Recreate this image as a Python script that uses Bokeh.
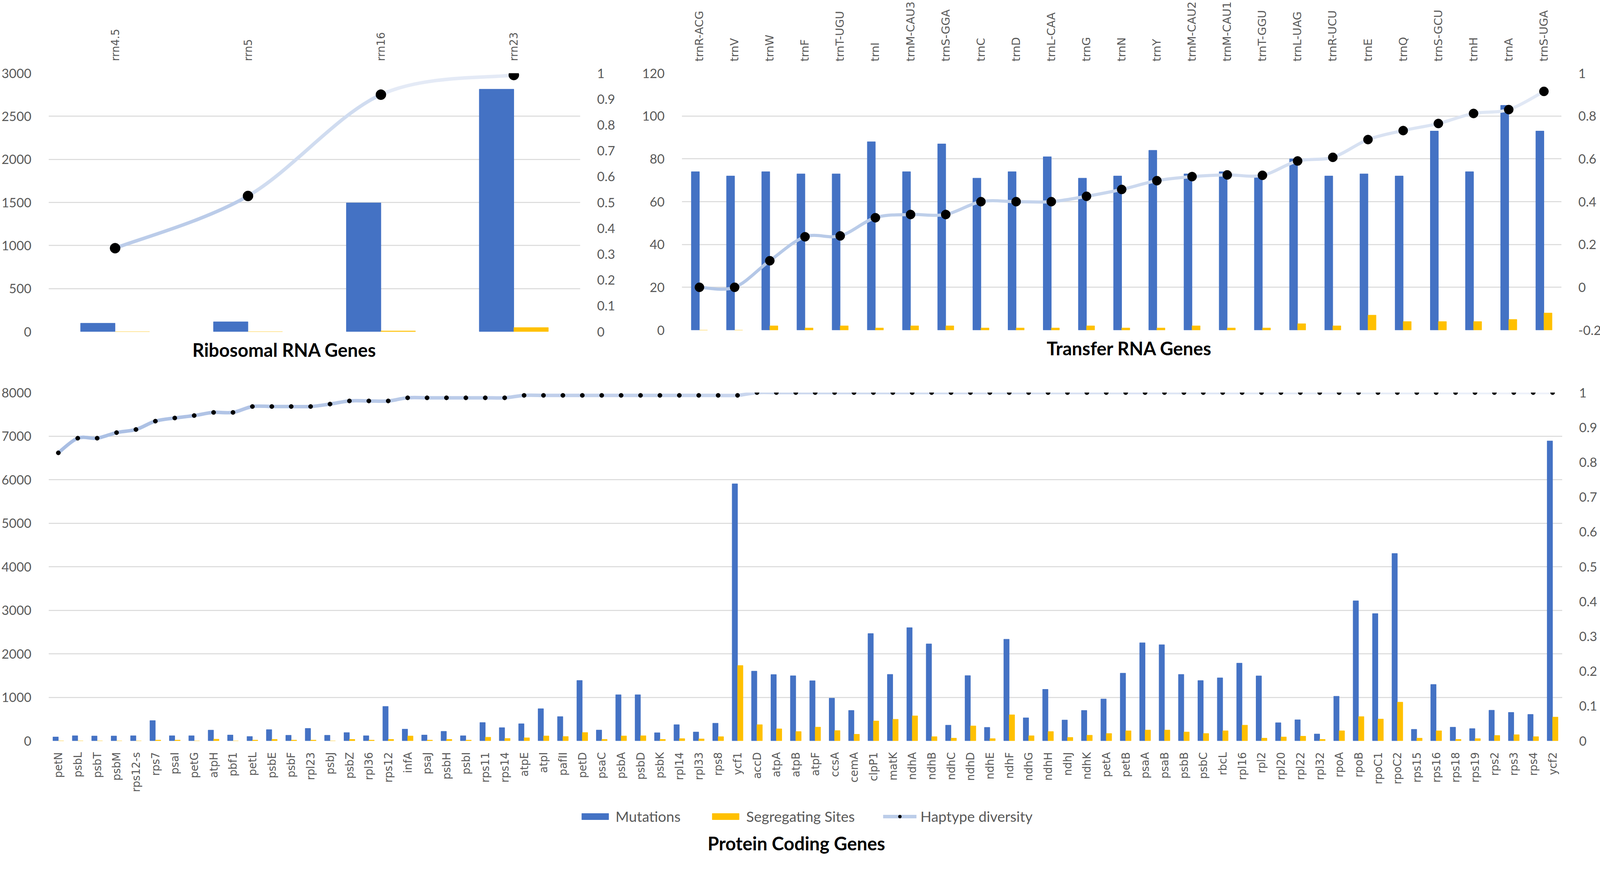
import numpy as np
from bokeh.plotting import figure
from bokeh.models import (Range1d, LinearAxis, FixedTicker, CustomJSTickFormatter, Legend,
                          LegendItem, Title, ColumnDataSource, Grid)
from bokeh.transform import dodge
from bokeh.layouts import column, row
from bokeh.embed import file_html
from bokeh.resources import INLINE

# ---------------- data ----------------
rrna_genes = ["rrn4.5", "rrn5", "rrn16", "rrn23"]
rrna_mut = [98, 115, 1495, 2815]
rrna_seg = [0, 0, 8, 48]
rrna_hd = [0.323, 0.525, 0.917, 0.993]

trna_genes = ["trnR-ACG", "trnV", "trnW", "trnF", "trnT-UGU", "trnI", "trnM-CAU3", "trnS-GGA",
              "trnC", "trnD", "trnL-CAA", "trnG", "trnN", "trnY", "trnM-CAU2", "trnM-CAU1",
              "trnT-GGU", "trnL-UAG", "trnR-UCU", "trnE", "trnQ", "trnS-GCU", "trnH", "trnA", "trnS-UGA"]
trna_mut = [74, 72, 74, 73, 73, 88, 74, 87, 71, 74, 81, 71, 72, 84, 73, 74, 72, 80, 72, 73, 72, 93, 74, 105, 93]
trna_seg = [0, 0, 2, 1, 2, 1, 2, 2, 1, 1, 1, 2, 1, 1, 2, 1, 1, 3, 2, 7, 4, 4, 4, 5, 8]
trna_hd = [0.0, 0.0, 0.124, 0.236, 0.24, 0.325, 0.34, 0.34, 0.4, 0.4, 0.4, 0.425, 0.457, 0.498,
           0.517, 0.525, 0.523, 0.59, 0.607, 0.69, 0.732, 0.765, 0.812, 0.83, 0.915]

pcg_genes = ["petN", "psbL", "psbT", "psbM", "rps12-s", "rps7", "psaI", "petG", "atpH", "pbf1",
             "petL", "psbE", "psbF", "rpl23", "psbJ", "psbZ", "rpl36", "rps12", "infA", "psaJ",
             "psbH", "psbI", "rps11", "rps14", "atpE", "atpI", "pafII", "petD", "psaC", "psbA",
             "psbD", "psbK", "rpl14", "rpl33", "rps8", "ycf1", "accD", "atpA", "atpB", "atpF",
             "ccsA", "cemA", "clpP1", "matK", "ndhA", "ndhB", "ndhC", "ndhD", "ndhE", "ndhF",
             "ndhG", "ndhH", "ndhJ", "ndhK", "petA", "petB", "psaA", "psaB", "psbB", "psbC",
             "rbcL", "rpl16", "rpl2", "rpl20", "rpl22", "rpl32", "rpoA", "rpoB", "rpoC1", "rpoC2",
             "rps15", "rps16", "rps18", "rps19", "rps2", "rps3", "rps4", "ycf2"]
pcg_mut = [90, 118, 112, 112, 118, 466, 118, 118, 247, 135, 101, 258, 129, 286, 129, 191, 118, 792,
           270, 135, 219, 118, 421, 303, 393,
           739, 558, 1387, 248, 1060, 1060, 186, 372, 203, 406, 5905, 1602, 1523, 1495, 1382, 981,
           699, 2465, 1528, 2600, 2228, 361, 1500, 310, 2335, 530, 1184,
           479, 699, 963, 1555, 2254, 2209, 1527, 1386, 1448, 1786, 1493, 417, 485, 158, 1025,
           3217, 2924, 4304, 265, 1296, 315, 282, 704, 654, 608, 6890]
pcg_seg = [0, 0, 0, 0, 0, 17, 17, 0, 39, 0, 17, 34, 17, 17, 0, 34, 17, 34, 112, 17, 34, 17, 84, 56, 70,
           113, 101, 192, 34, 113, 118, 34, 51, 45, 96, 1731, 372, 276, 214, 316, 237, 152, 457, 496,
           575, 96, 62, 344, 51, 598, 118, 214,
           79, 130, 169, 231, 248, 248, 203, 169, 231, 361, 62, 90, 107, 34, 231, 558, 501, 890, 62,
           231, 34, 51, 124, 141, 96, 546]
pcg_hd = [0.827, 0.869, 0.869, 0.885, 0.894, 0.918, 0.927, 0.934, 0.943, 0.943, 0.96, 0.96, 0.96,
          0.96, 0.967, 0.976, 0.976, 0.976, 0.985, 0.985, 0.985, 0.985, 0.985, 0.985,
          0.992, 0.992, 0.992, 0.992, 0.992, 0.992, 0.992, 0.992, 0.992, 0.992, 0.992, 0.992] + [1.0] * 42

rrna_left_ticks = [0, 500, 1000, 1500, 2000, 2500, 3000]
rrna_right_ticks = [0, 0.1, 0.2, 0.3, 0.4, 0.5, 0.6, 0.7, 0.8, 0.9, 1.0]
trna_left_ticks = [0, 20, 40, 60, 80, 100, 120]
trna_right_ticks = [-0.2, 0, 0.2, 0.4, 0.6, 0.8, 1.0]
pcg_left_ticks = [0, 1000, 2000, 3000, 4000, 5000, 6000, 7000, 8000]
pcg_right_ticks = [0, 0.1, 0.2, 0.3, 0.4, 0.5, 0.6, 0.7, 0.8, 0.9, 1.0]

legend_labels = ["Mutations", "Segregating Sites", "Haptype diversity"]
titles = ["Ribosomal RNA Genes", "Transfer RNA Genes", "Protein Coding Genes"]

# ---------------- style ----------------
BLUE = "#4472C4"
YELLOW = "#FFC000"
GRID = "#D9D9D9"
TXT = "#595959"
NUM_FONT = "Lato"
CAT_FONT = "DejaVu Sans"
TICK_SIZE = "33px"
TITLE_SIZE = "47px"

FMT = CustomJSTickFormatter(code="return Number(tick.toFixed(3)).toString();")


def hex_lerp(c0, c1, t):
    a = [int(c0[i:i + 2], 16) for i in (1, 3, 5)]
    b = [int(c1[i:i + 2], 16) for i in (1, 3, 5)]
    return "#%02x%02x%02x" % tuple(int(round(a[k] + (b[k] - a[k]) * t)) for k in range(3))


def smooth_source(ys, c0, c1):
    xs = list(range(len(ys)))
    n = len(xs)
    d = dict(x0=[], y0=[], x1=[], y1=[], cx0=[], cy0=[], cx1=[], cy1=[], color=[])
    for i in range(n - 1):
        a = i - 1 if i > 0 else i
        b = i + 2 if i + 2 < n else i + 1
        d["x0"].append(xs[i]); d["y0"].append(ys[i])
        d["x1"].append(xs[i + 1]); d["y1"].append(ys[i + 1])
        d["cx0"].append(xs[i] + (xs[i + 1] - xs[a]) / 6.0)
        d["cy0"].append(ys[i] + (ys[i + 1] - ys[a]) / 6.0)
        d["cx1"].append(xs[i + 1] - (xs[b] - xs[i]) / 6.0)
        d["cy1"].append(ys[i + 1] - (ys[b] - ys[i]) / 6.0)
        d["color"].append(hex_lerp(c0, c1, (i + 0.5) / max(n - 1, 1)))
    return ColumnDataSource(d)


def make_panel(genes, mut, seg, hd, FW, FH, bl, br, bt, bb, ylim, lticks, rlim, rticks,
               bar_w, msize, lw, cat_size, cat_side, cat_standoff, c0, c1):
    n = len(genes)
    p = figure(frame_width=FW, frame_height=FH, x_range=Range1d(-0.5, n - 0.5),
               y_range=Range1d(*ylim),
               output_backend="svg", toolbar_location=None,
               x_axis_location=None, y_axis_location=None,
               min_border_left=bl, min_border_right=br, min_border_top=bt, min_border_bottom=bb)
    p.grid.visible = False
    p.outline_line_color = None
    p.background_fill_color = "white"
    p.border_fill_color = "white"
    p.extra_y_ranges = {"hd": Range1d(*rlim)}

    p.add_layout(Grid(dimension=1, ticker=FixedTicker(ticks=lticks), grid_line_color=GRID,
                      grid_line_width=2.5))

    def style(ax, font, size, standoff):
        ax.axis_line_color = None
        ax.major_tick_line_color = None
        ax.minor_tick_line_color = None
        ax.major_label_text_font = font
        ax.major_label_text_font_size = size
        ax.major_label_text_color = TXT
        ax.major_label_standoff = standoff

    left = LinearAxis(ticker=FixedTicker(ticks=lticks), formatter=FMT)
    style(left, NUM_FONT, TICK_SIZE, 38)
    p.add_layout(left, "left")
    right = LinearAxis(y_range_name="hd", ticker=FixedTicker(ticks=rticks), formatter=FMT)
    style(right, NUM_FONT, TICK_SIZE, 37)
    p.add_layout(right, "right")
    xax = LinearAxis(ticker=FixedTicker(ticks=list(range(n))),
                     major_label_overrides={i: g for i, g in enumerate(genes)},
                     major_label_orientation=np.pi / 2)
    style(xax, CAT_FONT, cat_size, cat_standoff)
    p.add_layout(xax, cat_side)

    src = ColumnDataSource(dict(x=list(range(n)), mut=mut, seg=seg, hd=hd))
    p.vbar(x=dodge("x", -bar_w / 2, range=p.x_range), top="mut", bottom=0, width=bar_w,
           color=BLUE, source=src)
    p.vbar(x=dodge("x", bar_w / 2, range=p.x_range), top="seg", bottom=0, width=bar_w,
           color=YELLOW, source=src)
    lsrc = smooth_source(hd, c0, c1)
    p.bezier(x0="x0", y0="y0", x1="x1", y1="y1", cx0="cx0", cy0="cy0", cx1="cx1", cy1="cy1",
             line_color="color", line_width=lw, line_cap="round", y_range_name="hd",
             source=lsrc)
    p.scatter(x="x", y="hd", size=msize, color="black", y_range_name="hd", source=src)
    return p


def add_title(p, text, offset, standoff):
    p.add_layout(Title(text=text, align="left", offset=offset, standoff=standoff,
                       text_font=NUM_FONT, text_font_size=TITLE_SIZE, text_font_style="bold",
                       text_color="black"), "below")


# top-left: ribosomal RNA genes
p1 = make_panel(rrna_genes, rrna_mut, rrna_seg, rrna_hd, 1361, 662, 120, 119, 180, 96,
                (0, 3000), rrna_left_ticks, (0, 1), rrna_right_ticks,
                0.26, 26, 9, "27.5px", "above", 25, "#b1c5e6", "#eef2f9")
add_title(p1, titles[0], 368, 33)

# top-right: transfer RNA genes
p2 = make_panel(trna_genes, trna_mut, trna_seg, trna_hd, 2252, 658, 141, 99, 184, 96,
                (0, 120), trna_left_ticks, (-0.2, 1), trna_right_ticks,
                0.23, 23.5, 8, "28.5px", "above", 24, "#b1c5e6", "#e2e9f5")
add_title(p2, titles[1], 934, 33)

# bottom: protein coding genes
p3 = make_panel(pcg_genes, pcg_mut, pcg_seg, pcg_hd, 3875, 892, 118, 99, 64, 128,
                (0, 8000), pcg_left_ticks, (0, 1), pcg_right_ticks,
                0.28, 11, 9, "27.5px", "below", 23, "#a9bee3", "#eef2fa")

# legend strip + title under the bottom panel (legend keys only, renderers hidden)
p4 = figure(frame_width=3875, frame_height=90, x_range=Range1d(-0.5, len(pcg_genes) - 0.5),
            y_range=Range1d(0, 8000),
            output_backend="svg", toolbar_location=None, title_location=None,
            x_axis_location=None, y_axis_location=None,
            min_border_left=118, min_border_right=99, min_border_top=0, min_border_bottom=0)
p4.grid.visible = False
p4.outline_line_color = None
s4 = ColumnDataSource(dict(x=list(range(len(pcg_genes))), mut=pcg_mut, seg=pcg_seg, hd=pcg_hd))
lb = p4.vbar(x="x", top="mut", width=0.28, color=BLUE, source=s4, visible=False)
ly = p4.vbar(x="x", top="seg", width=0.28, color=YELLOW, source=s4, visible=False)
ll = p4.line(x="x", y="hd", line_color="#bccde9", line_width=9, source=s4, visible=False)
ls = p4.scatter(x="x", y="hd", size=11, color="black", source=s4, visible=False)
legend = Legend(items=[LegendItem(label=legend_labels[0], renderers=[lb]),
                       LegendItem(label=legend_labels[1], renderers=[ly]),
                       LegendItem(label=legend_labels[2], renderers=[ll, ls])],
                orientation="horizontal", ncols=3, location="top_center",
                glyph_width=86, glyph_height=20,
                label_text_font=NUM_FONT, label_text_font_size="37px", label_text_color=TXT,
                spacing=72, label_standoff=10, border_line_color=None, background_fill_alpha=0,
                inactive_fill_alpha=0, click_policy="none",
                margin=37, padding=0)
p4.add_layout(legend, "center")
add_title(p4, titles[2], 1687, 16)

layout = column(row(p1, p2, spacing=0), p3, p4, spacing=0)
open("out.html", "w").write(file_html(layout, INLINE))
